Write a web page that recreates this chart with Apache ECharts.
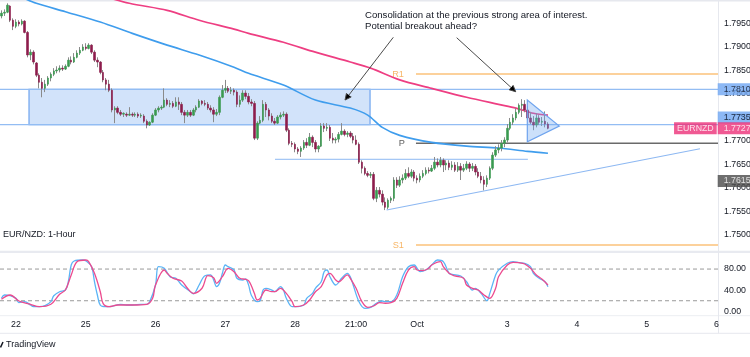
<!DOCTYPE html>
<html><head><meta charset="utf-8">
<script src="https://cdn.jsdelivr.net/npm/echarts@6/dist/echarts.min.js"></script>
<style>html,body{margin:0;padding:0;background:#fff}#c{width:750px;height:357px}</style>
</head><body><div id="c"></div>
<script>
// ---- hourly candles EUR/NZD ----
const open=[1.7966,1.7972,1.7974,1.7987,1.7957,1.7944,1.7953,1.7949,1.7955,1.7931,
1.7883,1.7889,1.7866,1.7840,1.7825,1.7812,1.7821,1.7834,1.7842,1.7849,
1.7851,1.7855,1.7853,1.7859,1.7872,1.7868,1.7878,1.7887,1.7893,1.7900,
1.7897,1.7904,1.7889,1.7872,1.7868,1.7846,1.7830,1.7821,1.7808,1.7766,
1.7770,1.7761,1.7757,1.7757,1.7755,1.7757,1.7755,1.7757,1.7753,1.7753,
1.7742,1.7734,1.7740,1.7755,1.7766,1.7770,1.7772,1.7787,1.7778,1.7780,
1.7774,1.7783,1.7778,1.7761,1.7755,1.7761,1.7755,1.7766,1.7772,1.7785,
1.7780,1.7778,1.7770,1.7766,1.7757,1.7761,1.7793,1.7808,1.7812,1.7806,
1.7808,1.7804,1.7778,1.7787,1.7802,1.7795,1.7783,1.7780,1.7706,1.7738,
1.7744,1.7778,1.7766,1.7753,1.7742,1.7738,1.7751,1.7755,1.7757,1.7723,
1.7695,1.7693,1.7683,1.7678,1.7685,1.7697,1.7691,1.7708,1.7697,1.7683,
1.7689,1.7732,1.7727,1.7729,1.7706,1.7702,1.7704,1.7714,1.7721,1.7714,
1.7717,1.7710,1.7702,1.7693,1.7655,1.7642,1.7631,1.7627,1.7629,1.7578,
1.7595,1.7587,1.7570,1.7559,1.7574,1.7578,1.7617,1.7606,1.7617,1.7621,
1.7631,1.7625,1.7634,1.7621,1.7617,1.7625,1.7631,1.7638,1.7636,1.7642,
1.7655,1.7649,1.7659,1.7649,1.7653,1.7644,1.7649,1.7638,1.7646,1.7638,
1.7642,1.7651,1.7642,1.7646,1.7634,1.7625,1.7617,1.7608,1.7621,1.7642,
1.7670,1.7681,1.7685,1.7695,1.7702,1.7727,1.7740,1.7749,1.7761,1.7776,
1.7778,1.7766,1.7749,1.7740,1.7734,1.7749,1.7740,1.7742,1.7736];
const close=[1.7972,1.7974,1.7989,1.7957,1.7944,1.7953,1.7949,1.7955,1.7931,1.7883,
1.7889,1.7868,1.7840,1.7825,1.7812,1.7821,1.7834,1.7842,1.7849,1.7851,
1.7855,1.7853,1.7859,1.7872,1.7868,1.7878,1.7887,1.7893,1.7900,1.7897,
1.7904,1.7889,1.7872,1.7868,1.7846,1.7830,1.7821,1.7808,1.7766,1.7770,
1.7761,1.7757,1.7759,1.7755,1.7757,1.7755,1.7757,1.7753,1.7755,1.7742,
1.7734,1.7740,1.7755,1.7766,1.7770,1.7772,1.7787,1.7778,1.7780,1.7774,
1.7783,1.7778,1.7761,1.7755,1.7761,1.7755,1.7766,1.7772,1.7785,1.7780,
1.7778,1.7770,1.7766,1.7757,1.7761,1.7793,1.7808,1.7812,1.7806,1.7808,
1.7804,1.7778,1.7787,1.7802,1.7795,1.7783,1.7780,1.7706,1.7738,1.7744,
1.7778,1.7766,1.7753,1.7742,1.7738,1.7751,1.7755,1.7757,1.7723,1.7695,
1.7693,1.7683,1.7678,1.7685,1.7697,1.7691,1.7708,1.7697,1.7683,1.7689,
1.7732,1.7727,1.7729,1.7706,1.7702,1.7704,1.7714,1.7721,1.7714,1.7717,
1.7710,1.7702,1.7693,1.7655,1.7642,1.7631,1.7627,1.7629,1.7578,1.7595,
1.7587,1.7570,1.7559,1.7574,1.7578,1.7617,1.7606,1.7617,1.7621,1.7631,
1.7625,1.7634,1.7621,1.7617,1.7625,1.7631,1.7638,1.7636,1.7642,1.7655,
1.7649,1.7659,1.7649,1.7653,1.7644,1.7649,1.7638,1.7646,1.7638,1.7642,
1.7651,1.7642,1.7646,1.7634,1.7625,1.7617,1.7608,1.7621,1.7642,1.7670,
1.7681,1.7685,1.7695,1.7702,1.7727,1.7740,1.7749,1.7761,1.7776,1.7778,
1.7766,1.7749,1.7740,1.7734,1.7749,1.7740,1.7742,1.7736,1.7727];
const low=[1.7961,1.7966,1.7972,1.7953,1.7936,1.7940,1.7944,1.7946,1.7929,1.7878,
1.7872,1.7863,1.7836,1.7812,1.7793,1.7804,1.7817,1.7827,1.7838,1.7844,
1.7846,1.7849,1.7851,1.7857,1.7863,1.7866,1.7876,1.7883,1.7891,1.7893,
1.7895,1.7885,1.7868,1.7857,1.7842,1.7825,1.7808,1.7804,1.7761,1.7738,
1.7757,1.7753,1.7751,1.7751,1.7753,1.7751,1.7751,1.7749,1.7749,1.7738,
1.7727,1.7732,1.7738,1.7753,1.7761,1.7766,1.7770,1.7774,1.7772,1.7770,
1.7772,1.7766,1.7755,1.7738,1.7751,1.7751,1.7753,1.7761,1.7770,1.7776,
1.7774,1.7766,1.7761,1.7740,1.7753,1.7755,1.7791,1.7802,1.7802,1.7800,
1.7797,1.7772,1.7772,1.7783,1.7789,1.7778,1.7774,1.7702,1.7702,1.7736,
1.7740,1.7751,1.7744,1.7738,1.7734,1.7736,1.7746,1.7751,1.7719,1.7691,
1.7687,1.7676,1.7672,1.7666,1.7681,1.7685,1.7689,1.7687,1.7676,1.7676,
1.7687,1.7719,1.7721,1.7700,1.7695,1.7695,1.7697,1.7712,1.7710,1.7708,
1.7706,1.7695,1.7691,1.7651,1.7631,1.7627,1.7623,1.7621,1.7574,1.7570,
1.7580,1.7563,1.7553,1.7555,1.7568,1.7572,1.7600,1.7602,1.7610,1.7617,
1.7621,1.7621,1.7614,1.7610,1.7612,1.7621,1.7627,1.7631,1.7634,1.7638,
1.7644,1.7644,1.7634,1.7638,1.7638,1.7638,1.7634,1.7634,1.7617,1.7634,
1.7638,1.7634,1.7636,1.7627,1.7621,1.7610,1.7595,1.7602,1.7617,1.7638,
1.7666,1.7674,1.7678,1.7687,1.7697,1.7723,1.7734,1.7744,1.7757,1.7751,
1.7761,1.7744,1.7736,1.7723,1.7729,1.7734,1.7732,1.7729,1.7725];
const high=[1.7978,1.7980,1.7993,1.7989,1.7961,1.7959,1.7957,1.7959,1.7957,1.7934,
1.7895,1.7893,1.7868,1.7844,1.7834,1.7830,1.7838,1.7846,1.7855,1.7859,
1.7861,1.7861,1.7863,1.7878,1.7880,1.7887,1.7893,1.7900,1.7906,1.7908,
1.7908,1.7906,1.7893,1.7878,1.7870,1.7851,1.7834,1.7830,1.7812,1.7774,
1.7774,1.7766,1.7761,1.7761,1.7772,1.7761,1.7761,1.7761,1.7759,1.7757,
1.7746,1.7742,1.7759,1.7770,1.7774,1.7776,1.7812,1.7791,1.7787,1.7785,
1.7793,1.7793,1.7783,1.7766,1.7766,1.7766,1.7770,1.7776,1.7789,1.7787,
1.7787,1.7783,1.7776,1.7772,1.7768,1.7797,1.7819,1.7830,1.7817,1.7815,
1.7812,1.7808,1.7797,1.7808,1.7808,1.7802,1.7789,1.7785,1.7742,1.7753,
1.7787,1.7783,1.7770,1.7759,1.7749,1.7755,1.7761,1.7763,1.7761,1.7727,
1.7700,1.7697,1.7687,1.7689,1.7702,1.7706,1.7717,1.7712,1.7702,1.7691,
1.7738,1.7738,1.7738,1.7734,1.7717,1.7708,1.7719,1.7738,1.7725,1.7721,
1.7721,1.7717,1.7712,1.7697,1.7659,1.7646,1.7636,1.7634,1.7634,1.7602,
1.7602,1.7595,1.7580,1.7578,1.7582,1.7623,1.7623,1.7625,1.7629,1.7640,
1.7644,1.7640,1.7638,1.7627,1.7631,1.7638,1.7644,1.7644,1.7649,1.7666,
1.7663,1.7666,1.7663,1.7659,1.7659,1.7657,1.7655,1.7655,1.7653,1.7651,
1.7657,1.7655,1.7653,1.7651,1.7642,1.7634,1.7625,1.7627,1.7646,1.7676,
1.7689,1.7693,1.7702,1.7708,1.7736,1.7749,1.7757,1.7770,1.7780,1.7789,
1.7787,1.7774,1.7761,1.7753,1.7759,1.7755,1.7751,1.7763,1.7740];

// ---- moving averages (sampled) ----
const maSlowIdx=[34,44,57,68,80,85,97,108,120,127,137,148,160,171,177,183,188];
const maSlowVal=[1.8010,1.7993,1.7978,1.7957,1.7938,1.7929,1.7910,1.7889,1.7868,1.7855,1.7830,1.7812,1.7793,1.7778,1.7770,1.7759,1.7755];
const maFastIdx=[8,12,22,34,45,57,68,80,85,97,108,120,126,131,137,148,160,171,181,188];
const maFastVal=[1.8003,1.7993,1.7975,1.7953,1.7929,1.7904,1.7883,1.7857,1.7844,1.7819,1.7787,1.7770,1.7755,1.7729,1.7712,1.7697,1.7689,1.7685,1.7678,1.7674];

// ---- stochastic ----
const stochKIdx=[0,1,3,5,6,8,10,11,13,15,17,18,20,22,23,24,25,28,29,31,32,33,34,36,38,41,43,45,48,50,51,53,54,56,58,60,62,65,66,68,70,72,73,74,75,76,77,78,80,81,83,84,85,86,88,89,90,91,93,94,96,97,98,100,101,104,105,107,108,110,111,112,113,115,117,119,120,121,123,125,127,129,131,132,134,136,138,140,142,143,144,146,148,150,152,154,155,158,160,162,163,165,167,168,170,171,174,176,178,180,182,183,185,187,188];
const stochKVal=[24.6,30.9,29.5,24.6,16.3,18.2,11.9,8.7,8.7,10.6,18.2,29.5,37.1,40.3,56,87.7,95.3,97.2,95.8,84.5,56,30.9,11.9,8.7,9.5,13.3,11.9,11.9,13.3,13,18.2,49.8,84.5,81.4,65.5,62.5,49.8,37.1,33,49.8,67.4,68.8,59.3,46.6,53,72,87.7,84.5,78.2,62.5,59.3,61.2,50,30,18.2,20,40.3,43.6,40.3,37.1,46.6,40.3,24.6,8.7,8.7,11.9,24.6,34,43.6,56,75,78.2,65.5,49.8,62.5,72,65.5,49.8,18.2,5.7,7.6,15.2,19.5,18.2,18.2,30.9,65.5,84.5,87.7,81.4,75,78.2,87.7,97.2,94,72,70.1,66.9,56,40.3,43.6,34,20.1,34,68.8,78,90.9,94,92,90.9,84.5,72,62.5,56,46.6];
const stochDIdx=[0,3,6,10,13,17,20,22,24,26,29,30,32,34,35,37,40,45,50,52,53,56,57,59,62,64,66,69,71,73,74,76,78,80,82,84,85,86,87,88,89,91,93,94,96,98,100,101,104,106,108,110,112,113,115,116,119,120,122,124,126,128,130,132,134,136,138,140,142,143,145,147,148,151,152,154,156,159,160,162,164,166,168,170,171,174,176,178,180,182,184,186,188];
const stochDVal=[22.7,30.9,19.5,13.3,8.7,13.3,32.2,40.3,68.8,94,97.2,94,72,37.1,14.5,8.7,11.9,11.9,13.3,24.6,49.8,78.2,72,62.5,57.4,43.6,34,43.6,67.4,63.6,53,65.5,81.4,75,62.5,60.6,58,48,34,21.4,24.6,40.3,37.1,37.1,43.6,34,18.2,8.7,11.9,21.4,37.1,46.6,68.8,72,59.3,56,68.8,62.5,43.6,18.2,7.6,10,16.3,15.2,16.3,24.6,53,78.2,84.5,78.2,76.9,81.4,87.7,94,84.5,72,66.9,62.5,49.8,43.6,40.3,30.9,24.6,43.6,65.5,87.7,92.8,92,89.6,81.4,68.8,60.6,49.8];

// ---- drawings ----
const levelZoneTop=1.7810, levelZoneBottom=1.7735;
const levelR1=1.78426, levelP=1.76951, levelS1=1.74787, levelMinor=1.76611;
const zoneX=[9.48,126.8];
const pivotX=[142.6,246.5];
const minorX=[94.1,181.1];
const triX=[180.9,180.9,191.9], triY=[1.77872,1.76985,1.77319];
const trendX=[132.5,240.3], trendY=[1.75532,1.76836];
const arrowFromX=[134.8,156.6], arrowFromY=[1.79206,1.79198];
const arrowToX=[118.2,176.9], arrowToY=[1.77872,1.78049];
const lastPrice=1.7727, prevClose=1.7615;

// ---- axes labels ----
const slotCount=247;
const tickIdx=[5,29,53,77,101,122,143,174,198,222,246];
const tickLabels=['22','25','26','27','28','21:00','Oct','3','4','5','6'];
const priceMin=1.745, priceMax=1.800, priceStep=0.005;

const UP='#3a9a50', DOWN='#8d1c4c', WICK='#8a8a8a';
const FONT='Liberation Sans';
const slots=Array.from({length:slotCount},(_,i)=>String(i));

const chart=echarts.init(document.getElementById('c'),null,{renderer:'canvas'});
const pair=(xs,ys)=>xs.map((x,i)=>[x,ys[i]]);
const hline=(name,xs,y,color,w,z)=>({
  name,type:'line',xAxisIndex:1,yAxisIndex:0,symbol:'none',silent:true,z:z||2,
  data:[[xs[0],y],[xs[1],y]],lineStyle:{color,width:w}});
const boxLabel=(y,text,bg,fg,pos,off)=>({value:[246.4,y],label:{show:true,position:pos,distance:pos==='left'?1:0,
  formatter:text,backgroundColor:bg,color:fg,padding:pos==='left'?[2,3,1,3]:[2,6,1,6],fontSize:8.8,fontFamily:FONT,offset:off||[0,0]}});

chart.setOption({
  animation:false,
  backgroundColor:'#ffffff',
  grid:[
    {left:0,right:32,top:0,height:258.5,outerBoundsMode:'none',containLabel:false},
    {left:0,right:32,top:258.5,height:52.8,outerBoundsMode:'none',containLabel:false}
  ],
  xAxis:[
    {type:'category',gridIndex:0,data:slots,boundaryGap:true,show:false},
    {type:'value',gridIndex:0,min:-0.5,max:slotCount-0.5,show:false},
    {type:'category',gridIndex:1,data:slots,boundaryGap:true,
      axisLine:{show:false},axisTick:{show:false},splitLine:{show:false},
      axisLabel:{margin:9,fontSize:8.8,fontFamily:FONT,color:'#131722',hideOverlap:false,
        interval:(i)=>tickIdx.includes(i),
        formatter:(v,i)=>{const k=tickIdx.indexOf(Number(v));return k>=0?tickLabels[k]:'';}}},
    {type:'value',gridIndex:1,min:-0.5,max:slotCount-0.5,show:false}
  ],
  yAxis:[
    {type:'value',gridIndex:0,position:'right',min:priceMin,max:priceMax,interval:priceStep,
      axisLine:{show:false},axisTick:{show:false},splitLine:{show:false},
      axisLabel:{margin:6,fontSize:8.8,fontFamily:FONT,color:'#131722',
        formatter:v=>(Math.abs(v-priceMin)<1e-7||Math.abs(v-priceMax)<1e-7)?'':v.toFixed(5)}},
    {type:'value',gridIndex:1,position:'right',min:0,max:100,interval:40,
      axisLine:{show:false},axisTick:{show:false},splitLine:{show:false},
      axisLabel:{margin:6,fontSize:8.8,fontFamily:FONT,color:'#131722',
        formatter:v=>v>=100?'':v.toFixed(2)}}
  ],
  series:[
    {name:'zone',type:'custom',xAxisIndex:1,yAxisIndex:0,z:1,silent:true,clip:true,
      data:[[zoneX[0],levelZoneTop]],
      renderItem:(p,api)=>{const a=api.coord([zoneX[0],levelZoneTop]),b=api.coord([zoneX[1],levelZoneBottom]);
        return {type:'rect',shape:{x:a[0],y:a[1],width:b[0]-a[0],height:b[1]-a[1]},
          style:{fill:'rgba(130,178,242,0.36)',stroke:'#6ea3ee',lineWidth:1.2}};}},
    hline('zoneTopLine',[-0.5,slotCount-0.5],levelZoneTop,'#93bdf3',1.3,1),
    hline('zoneBottomLine',[-0.5,slotCount-0.5],levelZoneBottom,'#93bdf3',1.3,1),
    hline('minor',minorX,levelMinor,'#8db8f2',1,1),
    hline('R1',pivotX,levelR1,'#fbc27a',1.3,1),
    hline('P',pivotX,levelP,'#6a6a6a',1.4,1),
    hline('S1',pivotX,levelS1,'#fbc27a',1.3,1),
    {name:'trend',type:'line',xAxisIndex:1,yAxisIndex:0,symbol:'none',silent:true,z:1,
      data:pair(trendX,trendY),lineStyle:{color:'#8db8f2',width:1.1}},
    {name:'MA slow',type:'line',xAxisIndex:1,yAxisIndex:0,symbol:'none',smooth:0.3,clip:true,z:2,
      data:pair(maSlowIdx,maSlowVal),lineStyle:{color:'#ee3e82',width:1.7}},
    {name:'MA fast',type:'line',xAxisIndex:1,yAxisIndex:0,symbol:'none',smooth:0.3,clip:true,z:2,
      data:pair(maFastIdx,maFastVal),lineStyle:{color:'#3f9ded',width:1.6}},
    {name:'wick',type:'candlestick',xAxisIndex:0,yAxisIndex:0,barWidth:1,z:3,
      data:open.map((o,i)=>[o,close[i],low[i],high[i]]),
      itemStyle:{color:WICK,color0:WICK,borderColor:WICK,borderColor0:WICK,borderWidth:1}},
    {name:'body',type:'candlestick',xAxisIndex:0,yAxisIndex:0,barWidth:2,z:4,
      data:open.map((o,i)=>[o,close[i],Math.min(o,close[i]),Math.max(o,close[i])]),
      itemStyle:{color:UP,color0:DOWN,borderColor:UP,borderColor0:DOWN,borderWidth:0.6}},
    {name:'triangle',type:'custom',xAxisIndex:1,yAxisIndex:0,z:5,silent:true,
      data:[[triX[0],triY[0]]],
      renderItem:(p,api)=>({type:'polygon',shape:{points:triX.map((x,i)=>api.coord([x,triY[i]]))},
        style:{fill:'rgba(110,165,240,0.35)',stroke:'#6ea3ee',lineWidth:1.2}})},
    {name:'arrows',type:'custom',xAxisIndex:1,yAxisIndex:0,z:6,silent:true,clip:false,
      data:arrowFromX.map((x,i)=>[x,arrowFromY[i],arrowToX[i],arrowToY[i]]),
      renderItem:(p,api)=>{
        const a=api.coord([api.value(0),api.value(1)]),b=api.coord([api.value(2),api.value(3)]);
        const ang=Math.atan2(b[1]-a[1],b[0]-a[0]),L=7,s=0.45;
        const h1=[b[0]-L*Math.cos(ang-s),b[1]-L*Math.sin(ang-s)],h2=[b[0]-L*Math.cos(ang+s),b[1]-L*Math.sin(ang+s)];
        const st={stroke:'#4a4a4a',lineWidth:1};
        return {type:'group',children:[
          {type:'line',shape:{x1:a[0],y1:a[1],x2:b[0],y2:b[1]},style:st},
          {type:'polyline',shape:{points:[h1,b,h2]},style:st}]};}},
    {name:'levelLabels',type:'scatter',xAxisIndex:1,yAxisIndex:0,symbolSize:0,silent:true,z:6,clip:false,
      data:[
        {value:[pivotX[0],levelR1],label:{show:true,position:'left',distance:12,formatter:'R1',color:'#f5a441'}},
        {value:[pivotX[0],levelP],label:{show:true,position:'left',distance:11,formatter:'P',color:'#333'}},
        {value:[pivotX[0],levelS1],label:{show:true,position:'left',distance:12,formatter:'S1',color:'#f5a441'}}],
      label:{fontSize:9.2,fontFamily:FONT}},
    {name:'tags',type:'scatter',xAxisIndex:1,yAxisIndex:0,symbolSize:0,silent:true,z:20,clip:false,
      data:[
        boxLabel(levelZoneTop,'1.78100','#6fa6f2','#131722','right'),
        boxLabel(levelZoneBottom,'1.77350','#6fa6f2','#131722','right',[0,-7]),
        boxLabel(lastPrice,'1.77270','#ec2f78','#ffffff','right'),
        boxLabel(lastPrice,'EURNZD','#ec2f78','#ffffff','left'),
        boxLabel(prevClose,'1.76150','#4a4a4a','#ffffff','right')]},
    {name:'levels80',type:'line',xAxisIndex:3,yAxisIndex:1,symbol:'none',silent:true,
      data:[[-0.5,80],[slotCount-0.5,80]],lineStyle:{color:'#9a9a9a',width:1,type:[4,3]}},
    {name:'levels20',type:'line',xAxisIndex:3,yAxisIndex:1,symbol:'none',silent:true,
      data:[[-0.5,20],[slotCount-0.5,20]],lineStyle:{color:'#9a9a9a',width:1,type:[4,3]}},
    {name:'%K',type:'line',xAxisIndex:3,yAxisIndex:1,symbol:'none',smooth:0.35,clip:false,
      data:pair(stochKIdx,stochKVal),lineStyle:{color:'#5ab4f6',width:1.3}},
    {name:'%D',type:'line',xAxisIndex:3,yAxisIndex:1,symbol:'none',smooth:0.35,clip:false,
      data:pair(stochDIdx,stochDVal),lineStyle:{color:'#ec4a8e',width:1.3}}
  ],
  graphic:[
    {type:'line',shape:{x1:0,y1:0.5,x2:750,y2:0.5},style:{stroke:'#e6e8ee',lineWidth:2},silent:true},
    {type:'rect',shape:{x:0,y:250.8,width:750,height:2.2},style:{fill:'#e8eaf0'},silent:true},
    {type:'line',shape:{x1:0,y1:315.7,x2:750,y2:315.7},style:{stroke:'#eceef2',lineWidth:1},silent:true},
    {type:'line',shape:{x1:0,y1:333.3,x2:750,y2:333.3},style:{stroke:'#e6e8ee',lineWidth:1},silent:true},
    {type:'line',shape:{x1:718.5,y1:0,x2:718.5,y2:333.3},style:{stroke:'#e6e8ee',lineWidth:1},silent:true},
    {type:'text',left:3,top:230.5,style:{text:'EUR/NZD: 1-Hour',font:'9px "Liberation Sans"',fill:'#131722'},silent:true},
    {type:'text',left:365,top:10.5,style:{text:'Consolidation at the previous strong area of interest.\nPotential breakout ahead?',
      font:'9.6px "Liberation Sans"',fill:'#131722',lineHeight:10.5},silent:true},
    {type:'line',shape:{x1:0.5,y1:347.5,x2:3,y2:342},style:{stroke:'#131722',lineWidth:1.5},silent:true},
    {type:'text',left:6,top:340,style:{text:'TradingView',font:'9px "Liberation Sans"',fill:'#131722'},silent:true}
  ]
});
</script>
</body></html>
